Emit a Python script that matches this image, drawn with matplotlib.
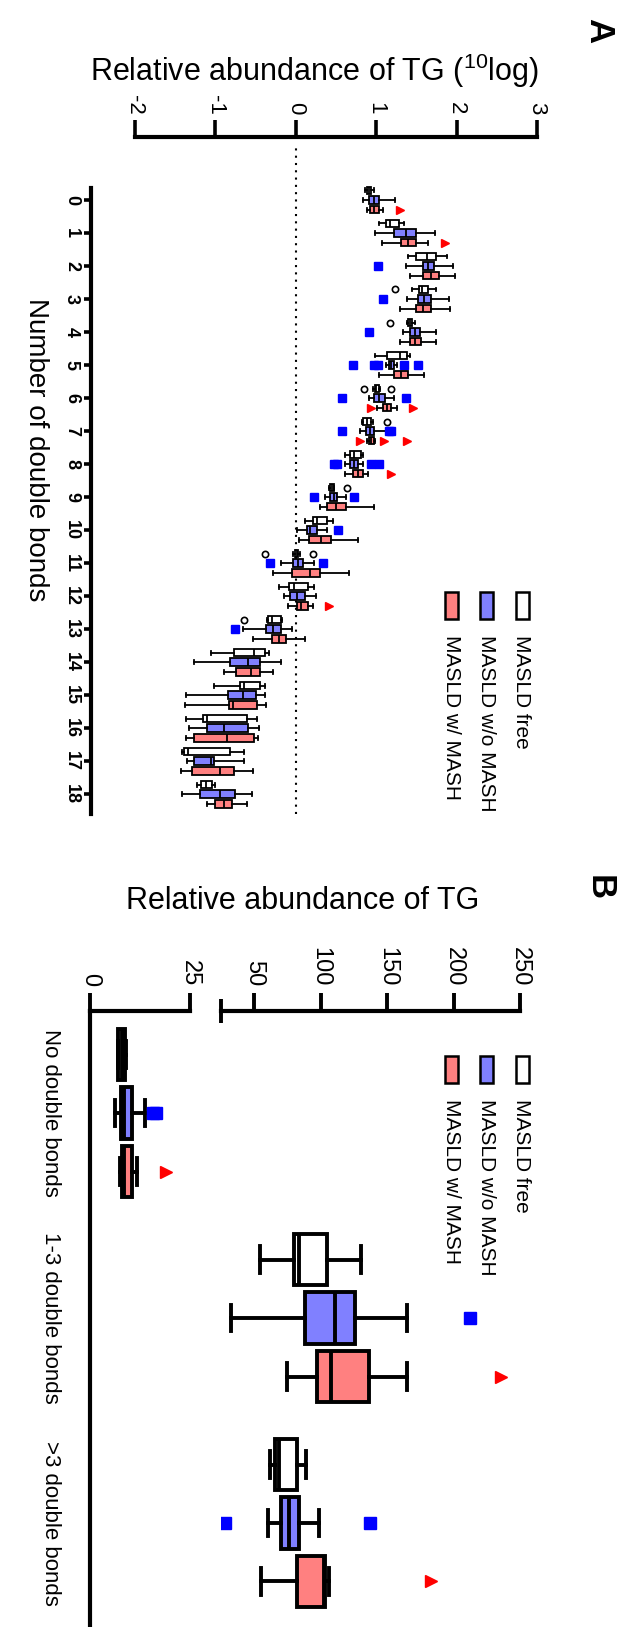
import numpy as np
import matplotlib.pyplot as plt
from matplotlib.patches import Rectangle

plt.rcParams['font.family'] = ['Liberation Sans', 'DejaVu Sans']
plt.rcParams['mathtext.default'] = 'regular'
plt.rcParams['axes.unicode_minus'] = False

W, H = 622, 1627

groups = ['MASLD free', 'MASLD w/o MASH', 'MASLD w/ MASH']
fills = ['white', '#8080ff', '#ff8080']
flier_style = [
    dict(marker='o', mfc='none', mec='black', ms=4.5, mew=1.2, ls='none'),
    dict(marker='s', mfc='#0000ff', mec='#0000ff', ms=5.5, ls='none'),
    dict(marker='>', mfc='#ff0000', mec='#ff0000', ms=6, ls='none'),
]

# ---- panel A: TG by number of double bonds (10log), whislo, q1, med, q3, whishi
n_db = list(range(19))
a_free = [(0.86, 0.88, 0.91, 0.94, 0.97), (1.04, 1.12, 1.17, 1.28, 1.35),
          (1.40, 1.49, 1.63, 1.75, 1.88), (1.45, 1.53, 1.57, 1.64, 1.74),
          (1.38, 1.40, 1.42, 1.45, 1.48), (0.99, 1.14, 1.30, 1.38, 1.42),
          (0.96, 0.98, 1.00, 1.03, 1.05), (0.82, 0.84, 0.89, 0.94, 0.96),
          (0.61, 0.68, 0.72, 0.81, 0.83), (0.41, 0.42, 0.45, 0.47, 0.48),
          (0.11, 0.21, 0.26, 0.39, 0.46), (-0.03, -0.01, 0.01, 0.03, 0.05),
          (-0.21, -0.08, -0.02, 0.15, 0.23), (-0.36, -0.34, -0.30, -0.19, -0.17),
          (-1.06, -0.77, -0.52, -0.38, -0.33), (-1.02, -0.69, -0.64, -0.44, -0.38),
          (-1.37, -1.15, -1.11, -0.61, -0.48), (-1.41, -1.39, -1.34, -0.82, -0.65),
          (-1.23, -1.18, -1.12, -1.04, -1.01)]
a_wo = [(0.84, 0.91, 0.97, 1.04, 1.24), (0.98, 1.22, 1.37, 1.50, 1.73),
        (1.37, 1.58, 1.65, 1.72, 1.95), (1.38, 1.52, 1.60, 1.68, 1.90),
        (1.33, 1.42, 1.48, 1.55, 1.74), (1.12, 1.16, 1.19, 1.22, 1.26),
        (0.91, 0.97, 1.04, 1.11, 1.22), (0.80, 0.87, 0.92, 0.97, 1.12),
        (0.61, 0.68, 0.72, 0.77, 0.83), (0.36, 0.43, 0.47, 0.51, 0.63),
        (0.02, 0.14, 0.18, 0.27, 0.39), (-0.19, -0.03, 0.03, 0.09, 0.23),
        (-0.15, -0.07, 0.02, 0.11, 0.25), (-0.66, -0.37, -0.28, -0.19, -0.05),
        (-1.26, -0.82, -0.60, -0.44, -0.19), (-1.37, -0.84, -0.66, -0.50, -0.38),
        (-1.33, -1.10, -0.89, -0.60, -0.46), (-1.35, -1.27, -1.06, -1.02, -0.65),
        (-1.41, -1.19, -0.94, -0.75, -0.55)]
a_w = [(0.89, 0.92, 0.97, 1.03, 1.09), (1.07, 1.31, 1.39, 1.49, 1.64),
       (1.42, 1.58, 1.68, 1.78, 1.98), (1.30, 1.49, 1.58, 1.68, 1.92),
       (1.30, 1.42, 1.48, 1.56, 1.75), (1.04, 1.22, 1.31, 1.39, 1.60),
       (1.01, 1.08, 1.14, 1.18, 1.26), (0.89, 0.91, 0.94, 0.97, 0.99),
       (0.61, 0.71, 0.77, 0.83, 0.90), (0.30, 0.39, 0.50, 0.62, 0.97),
       (0.04, 0.17, 0.31, 0.44, 0.77), (-0.28, -0.05, 0.18, 0.30, 0.66),
       (-0.10, 0.01, 0.07, 0.15, 0.21), (-0.53, -0.29, -0.21, -0.12, 0.12),
       (-0.89, -0.74, -0.56, -0.44, -0.28), (-1.38, -0.83, -0.78, -0.48, -0.37),
       (-1.36, -1.27, -0.86, -0.52, -0.47), (-1.43, -1.29, -0.94, -0.77, -0.53),
       (-1.10, -1.00, -0.89, -0.79, -0.61)]
# outliers: {number of double bonds: values}
a_free_out = {3: [1.24], 4: [1.17], 6: [0.85, 1.19], 7: [1.13], 9: [0.64],
              11: [-0.38, 0.21], 13: [-0.65]}
a_wo_out = {2: [1.02], 3: [1.09], 4: [0.91], 5: [0.71, 0.97, 1.02, 1.34, 1.52],
            6: [0.58, 1.37], 7: [0.58, 1.16, 1.19], 8: [0.48, 0.51, 0.93, 1.04],
            9: [0.23, 0.72], 10: [0.52], 11: [-0.32, 0.34], 13: [-0.75]}
a_w_out = {0: [1.29], 1: [1.85], 6: [0.94, 1.46], 7: [0.80, 1.10, 1.38],
           8: [1.19], 12: [0.41]}

# ---- panel B: relative abundance of TG
b_cats = ['No double bonds', '1-3 double bonds', '>3 double bonds']
b_free = [(6.9, 7.1, 8.0, 8.75, 9.0), (54, 80, 84, 105, 130), (62, 65.6, 69, 82, 89)]
b_wo = [(6.25, 7.7, 8.6, 10.4, 13.75), (32.5, 88, 111, 126, 165), (60, 70, 76, 84, 99)]
b_w = [(7.6, 7.9, 8.5, 10.4, 11.8), (75, 97, 108, 136, 165), (55, 82, 102.5, 103, 106)]
b_free_out = [[], [], []]
b_wo_out = [[15.8, 16.5], [212], [28, 137]]
b_w_out = [[19], [236], [183]]
b_break = 25


def stats(rows, outs, n):
    res = []
    for i in range(n):
        lo, q1, med, q3, hi = rows[i]
        fl = outs.get(i, []) if isinstance(outs, dict) else outs[i]
        res.append(dict(whislo=lo, q1=q1, med=med, q3=q3, whishi=hi, fliers=fl))
    return res


def px_axes(x0, y0, x1, y1):
    return fig.add_axes([x0 / W, 1 - y1 / H, (x1 - x0) / W, (y1 - y0) / H])


def draw(ax, st, pos, k, width, lw, capw):
    ax.bxp(st, positions=pos, widths=width, orientation='horizontal',
           patch_artist=True, capwidths=capw,
           boxprops=dict(facecolor=fills[k], edgecolor='black', linewidth=lw),
           medianprops=dict(color='black', linewidth=lw),
           whiskerprops=dict(color='black', linewidth=lw),
           capprops=dict(color='black', linewidth=lw),
           flierprops=flier_style[k])


fig = plt.figure(figsize=(W / 100, H / 100), dpi=100)

# ================= panel A =================
axA = px_axes(91, 137, 537, 814)
axA.set_facecolor('none')
offs = [-0.29, 0.0, 0.29]
for k, (rows, outs) in enumerate([(a_free, a_free_out), (a_wo, a_wo_out), (a_w, a_w_out)]):
    st = stats(rows, outs, len(n_db))
    draw(axA, st, [c + offs[k] for c in n_db], k, 0.23, 1.3, 0.12)
axA.axvline(0, ymax=0.985, color='black', ls=(0, (1, 2.5)), lw=1.5, zorder=0)
axA.set_xlim(-2.547, 3)
axA.set_ylim(18.6, -1.91)
axA.xaxis.tick_top()
axA.set_xticks([-2, -1, 0, 1, 2, 3])
axA.set_xticklabels(['-2', '-1', '0', '1', '2', '3'], rotation=-90, fontsize=16)
axA.set_yticks(n_db)
axA.set_yticklabels([str(c) for c in n_db], rotation=-90, fontsize=13,
                    fontweight='bold', va='center')
axA.tick_params(axis='x', direction='out', length=12, width=2.6, pad=4)
axA.tick_params(axis='y', direction='out', length=5, width=2.6, pad=3)
for s in ['right', 'bottom']:
    axA.spines[s].set_visible(False)
axA.spines['top'].set_bounds(-2, 3)
axA.spines['left'].set_bounds(-0.35, 18.6)
for s in ['top', 'left']:
    axA.spines[s].set_linewidth(3)
axA.set_xlabel('Relative abundance of TG ($^{10}$log)', fontsize=22, labelpad=10)
axA.xaxis.set_label_position('top')

# ================= panel B =================
axBl = px_axes(90, 1011, 190, 1627)
axBh = px_axes(221, 1011, 520, 1627)
offsB = [-0.285, 0.0, 0.285]
for ax in (axBl, axBh):
    ax.set_facecolor('none')
    ax.set_ylim(2.507, -0.498)
    ax.xaxis.tick_top()
    for s in ['right', 'bottom']:
        ax.spines[s].set_visible(False)
    ax.spines['top'].set_linewidth(3)
    ax.spines['left'].set_linewidth(3)
axBl.set_xlim(0, b_break)
axBh.set_xlim(b_break, 250)
axBh.spines['left'].set_visible(False)

for k, (rows, outs) in enumerate([(b_free, b_free_out), (b_wo, b_wo_out), (b_w, b_w_out)]):
    st = stats(rows, outs, len(b_cats))
    for i, s in enumerate(st):
        ax = axBl if s['whishi'] < b_break else axBh
        draw(ax, [s], [i + offsB[k]], k, 0.25, 2.8, 0.13)
for ax in (axBl, axBh):
    for ln in ax.lines:
        if ln.get_marker() in ('s', '>'):
            ln.set_markersize(8)

axBl.set_xticks([0, 25])
axBl.set_xticklabels(['0', '25'], rotation=-90, fontsize=17)
axBl.set_xticks([b_break], minor=True)
axBh.set_xticks([50, 100, 150, 200, 250])
axBh.set_xticklabels(['50', '100', '150', '200', '250'], rotation=-90, fontsize=17)
axBh.set_xticks([b_break], minor=True)
axBl.tick_params(axis='x', which='major', direction='out', length=13, width=2.8, pad=5)
axBl.tick_params(axis='x', which='minor', direction='in', length=8, width=2.8)
axBh.tick_params(axis='x', which='major', direction='out', length=13, width=2.8, pad=5)
axBh.tick_params(axis='x', which='minor', direction='inout', length=17, width=2.8)
axBl.set_yticks(range(len(b_cats)))
axBl.set_yticklabels(b_cats, rotation=-90, fontsize=16, va='center')
axBl.tick_params(axis='y', length=0, pad=21)
axBh.set_yticks([])

# ================= free texts, legends =================
def ftext(x, y, s, **kw):
    fig.text(x / W, 1 - y / H, s, **kw)

ftext(36, 450, 'Number of double bonds', rotation=-90, ha='center', va='center', fontsize=20)
ftext(303, 901, 'Relative abundance of TG', ha='center', va='center', fontsize=22)
ftext(599, 31, 'A', rotation=-90, ha='center', va='center', fontsize=25, fontweight='heavy')
ftext(599, 888, 'B', rotation=-90, ha='center', va='center', fontsize=25, fontweight='heavy')


def legend(y_top):
    for k, name in enumerate(groups):
        xc = 522 - 35.5 * k
        fig.add_artist(Rectangle(((xc - 6.5) / W, 1 - (y_top + 27) / H), 13 / W, 27 / H,
                                 transform=fig.transFigure, facecolor=fills[k],
                                 edgecolor='black', linewidth=1.8))
        ftext(xc, y_top + 43, name, rotation=-90, ha='center', va='top', fontsize=15)


legend(592)
legend(1056)

fig.savefig('out.png', dpi=100)
